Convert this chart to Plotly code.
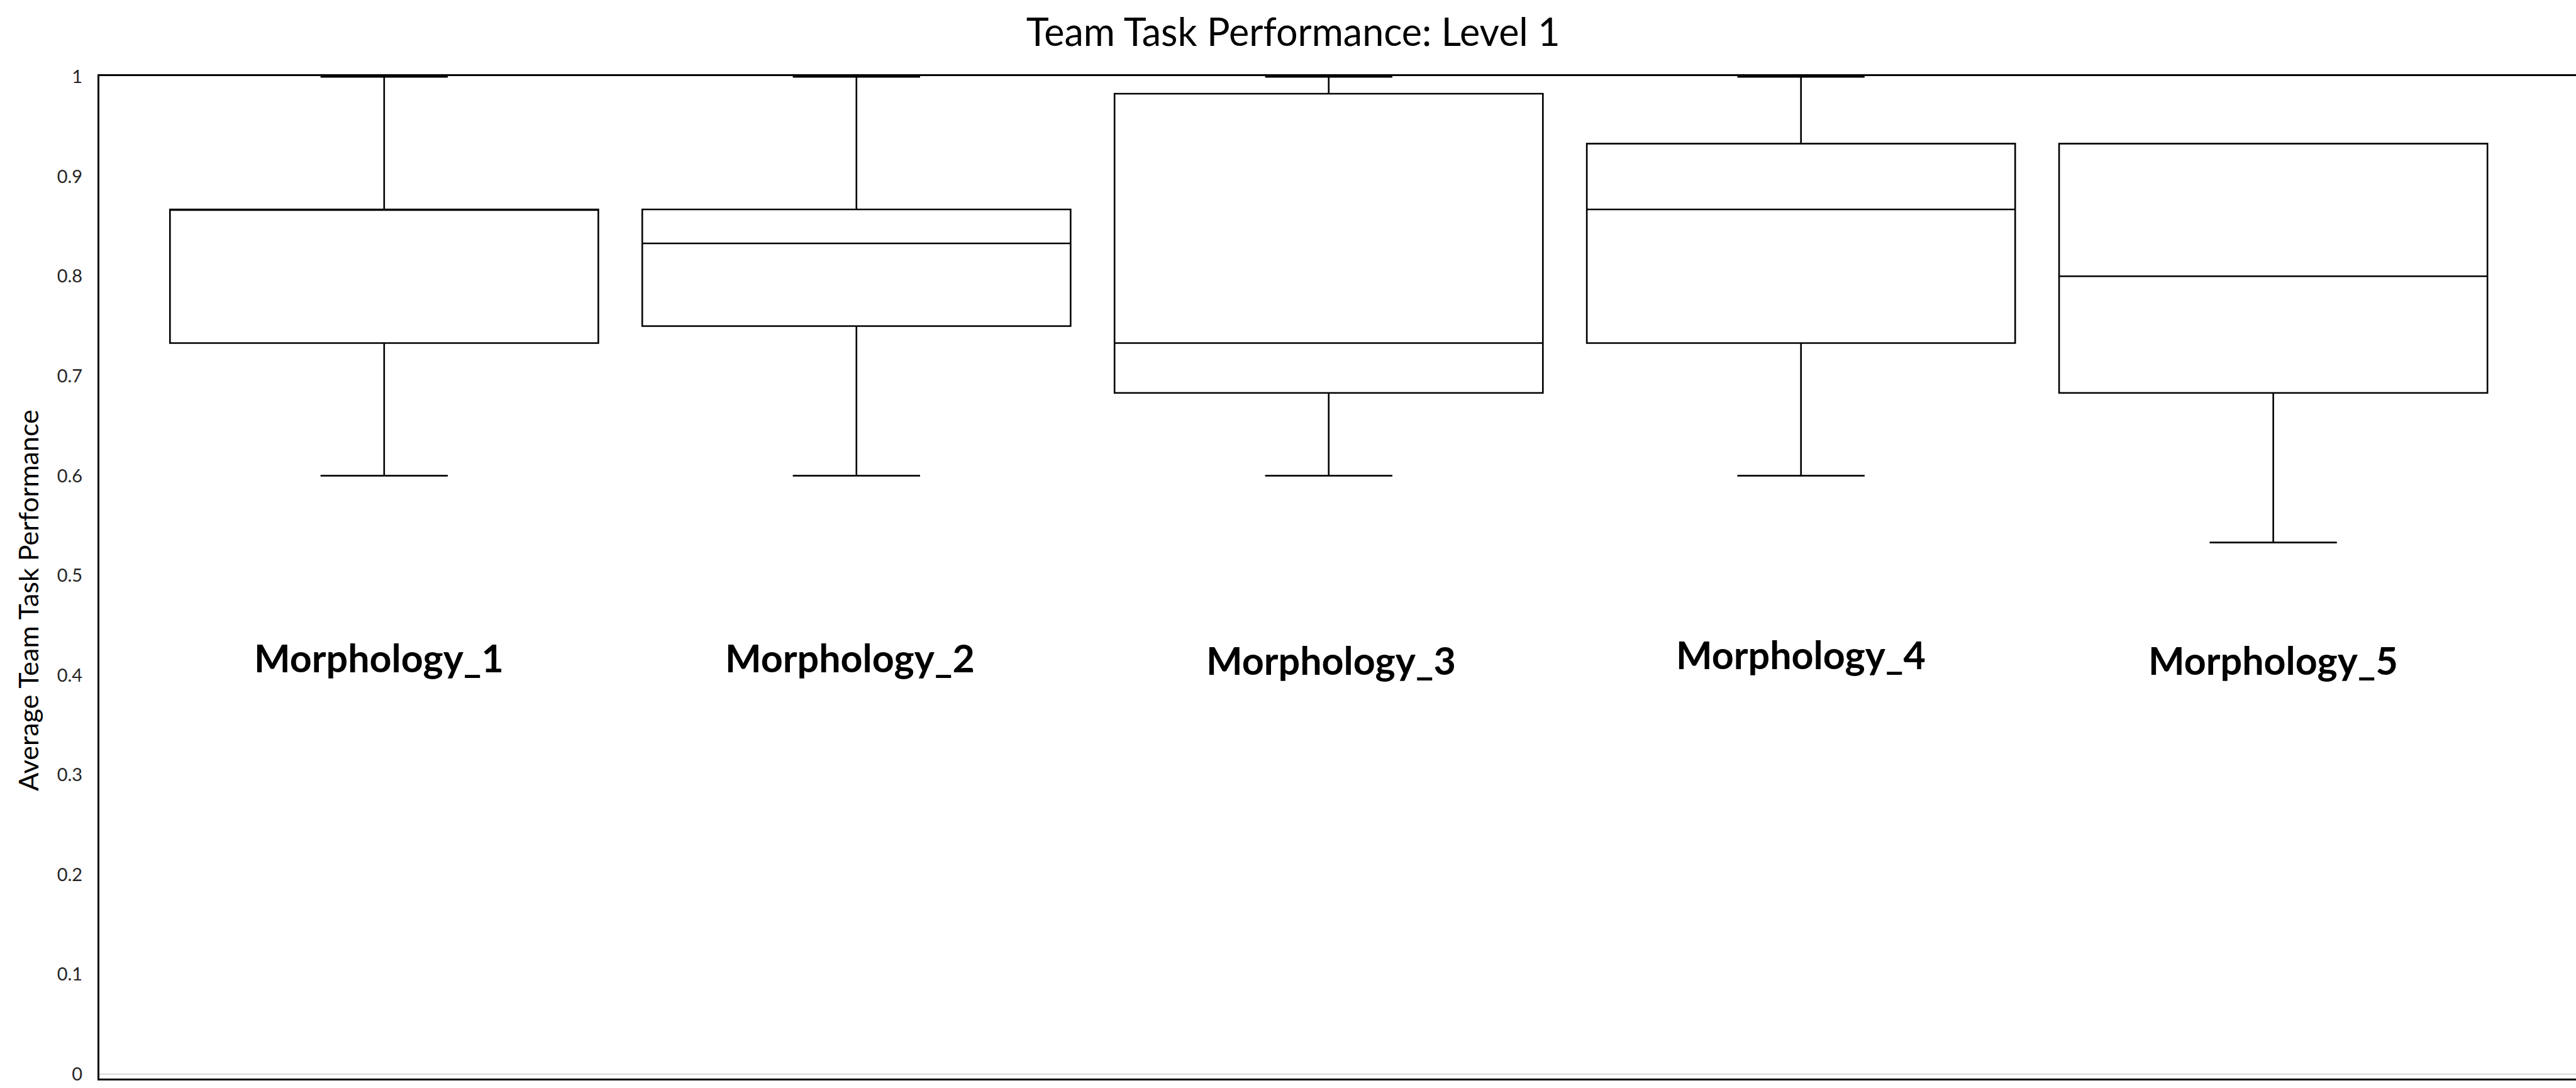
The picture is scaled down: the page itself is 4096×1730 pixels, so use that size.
import plotly.graph_objects as go

# ---- data ----
categories = ["Morphology_1", "Morphology_2", "Morphology_3", "Morphology_4", "Morphology_5"]
lower_fence = [0.600, 0.600, 0.600, 0.600, 0.533]
q1_vals     = [0.733, 0.750, 0.683, 0.733, 0.683]
median_vals = [0.867, 0.833, 0.733, 0.867, 0.800]
q3_vals     = [0.867, 0.867, 0.983, 0.933, 0.933]
upper_fence = [1.000, 1.000, 1.000, 1.000, 0.933]
y_ticks = [0, 0.1, 0.2, 0.3, 0.4, 0.5, 0.6, 0.7, 0.8, 0.9, 1]
y_tick_text = ["0", "0.1", "0.2", "0.3", "0.4", "0.5", "0.6", "0.7", "0.8", "0.9", "1"]

title_text = "Team Task Performance: Level 1"
y_title = "Average Team Task Performance"

positions = list(range(len(categories)))

FONT = "Lato"

fig = go.Figure()
fig.add_trace(go.Box(
    x=positions,
    q1=q1_vals,
    median=median_vals,
    q3=q3_vals,
    lowerfence=lower_fence,
    upperfence=upper_fence,
    width=0.907,
    whiskerwidth=0.297,
    fillcolor="white",
    line=dict(color="black", width=2.6),
    boxpoints=False,
    showlegend=False,
    hoverinfo="skip",
))

# category labels placed inside the plot area
label_y = [0.418, 0.418, 0.415, 0.421, 0.415]
label_xshift = [-8, -10, 4, 0, 0]
for i, name in enumerate(categories):
    fig.add_annotation(
        x=positions[i], y=label_y[i], xref="x", yref="y",
        xshift=label_xshift[i],
        text="<b>" + name + "</b>", showarrow=False,
        xanchor="center", yanchor="middle",
        font=dict(family=FONT, size=61, color="black"),
    )

# y-axis title as rotated annotation
fig.add_annotation(
    x=0, y=0.475, xref="paper", yref="y",
    xshift=-113, text=y_title, showarrow=False, textangle=-90,
    xanchor="center", yanchor="middle",
    font=dict(family=FONT, size=43, color="black"),
)

fig.update_layout(
    width=4096, height=1730,
    margin=dict(l=158, r=0, t=121, b=15, pad=0),
    paper_bgcolor="white", plot_bgcolor="white",
    title=dict(
        text=title_text, x=0.502, xref="container", xanchor="center",
        y=1 - 52 / 1730, yref="container", yanchor="middle",
        font=dict(family=FONT, size=61, color="black"),
    ),
    font=dict(family=FONT, color="black"),
)

fig.update_xaxes(
    range=[-0.603, 4.641],
    showgrid=False, zeroline=False,
    showticklabels=False, ticks="",
    showline=True, linecolor="black", linewidth=3, mirror=True,
)
fig.update_yaxes(
    range=[-0.0045, 1.0007],
    tickmode="array", tickvals=y_ticks, ticktext=y_tick_text,
    tickfont=dict(family=FONT, size=29, color="#262626"),
    ticks="", ticklabelstandoff=18,
    showgrid=False,
    zeroline=True, zerolinecolor="#d9d9d9", zerolinewidth=2,
    showline=True, linecolor="black", linewidth=3, mirror=False,
)

fig.write_html("out.html")
